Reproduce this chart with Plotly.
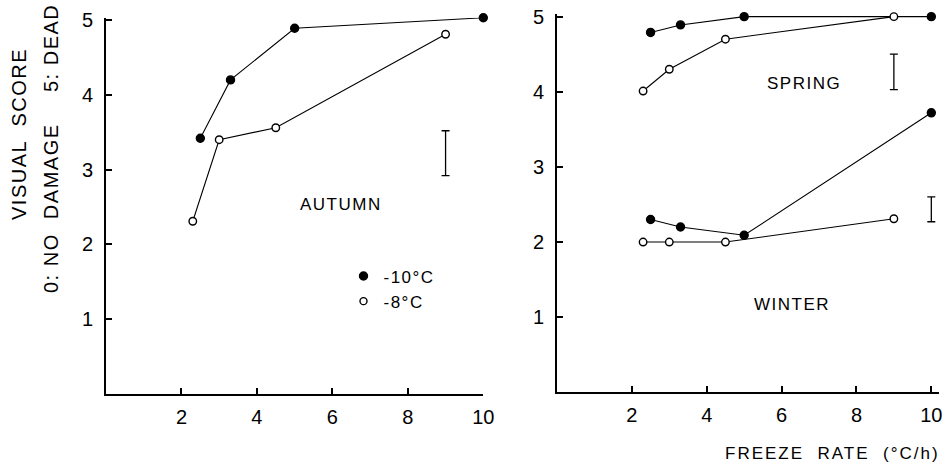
import plotly.graph_objects as go

# ---------------- data ----------------
rate_m10 = [2.5, 3.3, 5.0, 10.0]
rate_m8 = [2.3, 3.0, 4.5, 9.0]

autumn_m10 = [3.42, 4.20, 4.89, 5.03]
autumn_m8 = [2.31, 3.40, 3.56, 4.81]

spring_m10 = [4.79, 4.89, 5.00, 5.00]
spring_m8 = [4.01, 4.30, 4.70, 5.00]

winter_m10 = [2.30, 2.20, 2.09, 3.72]
winter_m8 = [2.00, 2.00, 2.00, 2.31]

# LSD bars: x, low, high
lsd_autumn = (9.0, 2.92, 3.52)
lsd_spring = (9.0, 4.03, 4.50)
lsd_winter = (10.0, 2.27, 2.60)

x_ticks = [2, 4, 6, 8, 10]
y_ticks = [1, 2, 3, 4, 5]

FONT = "Liberation Sans, Arial, sans-serif"
W, H = 948, 464


def ls(t, px=1.5):
    return f'<span style="letter-spacing:{px}px">{t}</span>'


fig = go.Figure()


def series(x, y, filled, xa, ya):
    fig.add_trace(go.Scatter(
        x=x, y=y, mode="lines+markers", xaxis=xa, yaxis=ya,
        line=dict(color="black", width=1.1),
        marker=dict(size=8 if filled else 7.5,
                    color="black" if filled else "white",
                    line=dict(color="black", width=1.4)),
        showlegend=False, cliponaxis=False, hoverinfo="skip"))


def lsd(bar, xa, ya):
    x, lo, hi = bar
    mid = (lo + hi) / 2
    fig.add_trace(go.Scatter(
        x=[x], y=[mid], mode="markers", xaxis=xa, yaxis=ya,
        marker=dict(size=1, color="rgba(0,0,0,0)"),
        error_y=dict(type="data", symmetric=True, array=[hi - mid],
                     color="black", thickness=1.3, width=4),
        showlegend=False, cliponaxis=False, hoverinfo="skip"))


# left panel: autumn
series(rate_m10, autumn_m10, True, "x", "y")
series(rate_m8, autumn_m8, False, "x", "y")
lsd(lsd_autumn, "x", "y")

# right panel: spring & winter
series(rate_m10, spring_m10, True, "x2", "y2")
series(rate_m8, spring_m8, False, "x2", "y2")
series(rate_m10, winter_m10, True, "x2", "y2")
series(rate_m8, winter_m8, False, "x2", "y2")
lsd(lsd_spring, "x2", "y2")
lsd(lsd_winter, "x2", "y2")

# legend entries
fig.add_trace(go.Scatter(x=[None], y=[None], mode="markers", name=ls("-10°C"),
                         marker=dict(size=8, color="black", line=dict(color="black", width=1.4)),
                         xaxis="x", yaxis="y"))
fig.add_trace(go.Scatter(x=[None], y=[None], mode="markers", name=ls("-8°C"),
                         marker=dict(size=7, color="white", line=dict(color="black", width=1.4)),
                         xaxis="x", yaxis="y"))

# pixel geometry
L_x0, L_x1 = 106, 483.3
L_yb, L_yt = 394, 17.8
R_x0, R_x1 = 557, 938.8
R_yb, R_yt = 392.3, 14.4

axis_common = dict(showgrid=False, zeroline=False, showline=True, linecolor="black",
                   linewidth=2, ticks="inside", ticklen=6, tickwidth=1.5, tickcolor="black",
                   tickfont=dict(family=FONT, size=20, color="black"), fixedrange=True,
                   automargin=False)

fig.update_layout(
    width=W, height=H, margin=dict(l=0, r=0, t=0, b=0, autoexpand=False),
    paper_bgcolor="white", plot_bgcolor="white",
    font=dict(family=FONT, color="black"),
    xaxis=dict(domain=[L_x0 / W, L_x1 / W], range=[0, 10], tickvals=x_ticks,
               anchor="y", ticklabelstandoff=4, **axis_common),
    yaxis=dict(domain=[(H - L_yb) / H, (H - L_yt) / H], range=[0, 5.03], tickvals=y_ticks,
               anchor="x", ticklabelstandoff=7, **axis_common),
    xaxis2=dict(domain=[R_x0 / W, R_x1 / W], range=[0, 10.2], tickvals=x_ticks,
                anchor="y2", ticklabelstandoff=4, **axis_common),
    yaxis2=dict(domain=[(H - R_yb) / H, (H - R_yt) / H], range=[0, 5.03], tickvals=y_ticks,
                anchor="x2", ticklabelstandoff=7, **axis_common),
    showlegend=True,
    legend=dict(x=343.5 / W, y=(H - 258.5) / H, xanchor="left", yanchor="top",
                bgcolor="rgba(0,0,0,0)", font=dict(family=FONT, size=17, color="black"),
                itemwidth=30, tracegroupgap=0),
)

common = dict(showarrow=False, xanchor="center", yanchor="middle")
ann = []
ann.append(dict(text=ls("AUTUMN"), x=6.23, y=2.53, xref="x", yref="y",
                font=dict(family=FONT, size=17), **common))
ann.append(dict(text=ls("SPRING"), x=6.61, y=4.11, xref="x2", yref="y2",
                font=dict(family=FONT, size=17), **common))
ann.append(dict(text=ls("WINTER"), x=6.27, y=1.17, xref="x2", yref="y2",
                font=dict(family=FONT, size=17), **common))
ann.append(dict(text=ls("FREEZE  RATE  (°C/h)", 2), x=832 / W, y=(H - 453) / H,
                xref="paper", yref="paper",
                font=dict(family=FONT, size=17), **common))
ann.append(dict(text=ls("VISUAL  SCORE", 1.5), x=19 / W, y=(H - 134) / H, textangle=-90,
                xref="paper", yref="paper",
                font=dict(family=FONT, size=20), **common))
ann.append(dict(text=ls("0: NO  DAMAGE", 1.5), x=51 / W, y=(H - 208) / H, textangle=-90,
                xref="paper", yref="paper",
                font=dict(family=FONT, size=20), **common))
ann.append(dict(text=ls("5: DEAD", 1.5), x=51 / W, y=(H - 48) / H, textangle=-90,
                xref="paper", yref="paper",
                font=dict(family=FONT, size=20), **common))
fig.update_layout(annotations=ann)

fig.write_html("out.html")
